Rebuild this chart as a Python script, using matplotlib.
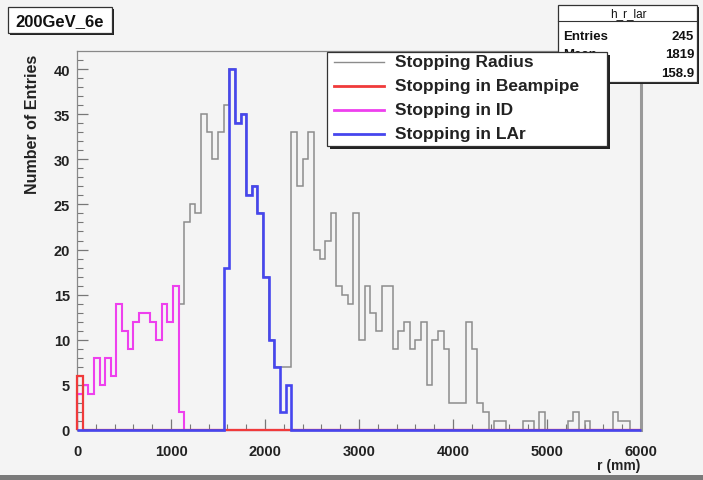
import numpy as np
import matplotlib
matplotlib.use("Agg")
import matplotlib.pyplot as plt
from matplotlib.patches import Rectangle
from matplotlib.lines import Line2D

# ---------------- data ----------------
n_bins = 100
r_min, r_max = 0, 6000

stopping_radius = [6, 5, 4, 8, 5, 8, 6, 14, 11, 9,
                   12, 13, 13, 12, 10, 14, 12, 16, 14, 23,
                   25, 24, 35, 33, 30, 33, 36, 40, 34, 35,
                   26, 27, 24, 17, 10, 7, 7, 7, 33, 27,
                   30, 33, 20, 19, 21, 24, 16, 15, 14, 24,
                   10, 16, 13, 11, 16, 16, 9, 11, 12, 9,
                   10, 12, 5, 10, 11, 9, 3, 3, 3, 12,
                   9, 3, 2, 0, 1, 1, 0, 0, 0, 1,
                   1, 0, 2, 0, 0, 0, 0, 1, 2, 0,
                   1, 0, 0, 0, 0, 2, 1, 1, 0, 0]

stopping_beampipe = [6] + [0] * 99

stopping_id = [4, 5, 4, 8, 5, 8, 6, 14, 11, 9,
               12, 13, 13, 12, 10, 14, 12, 16, 2] + [0] * 81

stopping_lar = [0] * 26 + [18, 40, 34, 35, 26, 27, 24, 17, 10, 7, 2, 5] + [0] * 62

series_labels = ["Stopping Radius", "Stopping in Beampipe", "Stopping in ID", "Stopping in LAr"]
series_colors = ["#8c8c8c", "#f03a3a", "#ee40ee", "#4646ee"]

title_text = "200GeV_6e"
stats_name = "h_r_lar"
stats_rows = [("Entries", "245"), ("Mean", "1819"), ("RMS", "158.9")]

# ---------------- figure ----------------
W, H = 703, 481
bg = "#f4f4f4"
FONT = "Liberation Sans"
plt.rcParams["font.family"] = [FONT, "DejaVu Sans"]

fig = plt.figure(figsize=(W / 100, H / 100), dpi=100, facecolor=bg)


def fx(x):
    return x / W


def fy(y):
    return 1 - y / H


ax_left, ax_right, ax_top, ax_bot = 77, 641, 52, 431
ax = fig.add_axes([fx(ax_left), fy(ax_bot), (ax_right - ax_left) / W, (ax_bot - ax_top) / H])
ax.set_facecolor(bg)

edges = np.linspace(r_min, r_max, n_bins + 1)
data = {
    "radius": stopping_radius,
    "beampipe": stopping_beampipe,
    "id": stopping_id,
    "lar": stopping_lar,
}
# draw order: total, ID, beampipe, LAr
ax.stairs(data["radius"], edges, color=series_colors[0], lw=1.1, baseline=0, clip_on=False, zorder=2)
ax.stairs(data["id"], edges, color=series_colors[2], lw=1.5, baseline=0, clip_on=False, zorder=3)
ax.stairs(data["beampipe"], edges, color=series_colors[1], lw=1.6, baseline=0, clip_on=False, zorder=4)
ax.stairs(data["lar"], edges, color=series_colors[3], lw=1.9, baseline=0, clip_on=False, zorder=5)

ax.set_xlim(r_min, r_max)
ax.set_ylim(0, 42)

ax.set_xticks(np.arange(0, 6001, 1000))
ax.set_xticks(np.arange(0, 6001, 200), minor=True)
ax.set_yticks(np.arange(0, 41, 5))
ax.set_yticks(np.arange(0, 42, 1), minor=True)

ax.tick_params(axis="both", which="both", direction="in", colors="#777777",
               labelcolor="#222222", top=False, right=False)
ax.tick_params(axis="x", which="major", length=8, width=0.9, pad=10, labelsize=10.5)
ax.tick_params(axis="x", which="minor", length=4, width=0.8)
ax.tick_params(axis="y", which="major", length=8, width=0.9, pad=5, labelsize=10.5)
ax.tick_params(axis="y", which="minor", length=4, width=0.8)
for lab in ax.get_xticklabels() + ax.get_yticklabels():
    lab.set_fontweight("bold")

for side in ["left", "bottom", "top"]:
    ax.spines[side].set_color("#888888")
    ax.spines[side].set_linewidth(0.9)
ax.spines["right"].set_color("#999999")
ax.spines["right"].set_linewidth(2.2)

# axis titles
fig.text(fx(33), fy(55), "Number of Entries", rotation=90, ha="center", va="top",
         fontsize=11.5, fontweight="bold", color="#222222")
fig.text(fx(640), fy(466), "r (mm)", ha="right", va="center",
         fontsize=10, fontweight="bold", color="#222222")

# bottom dark band of the canvas
fig.add_artist(Rectangle((0, 0), 1, 5 / H, transform=fig.transFigure,
                         facecolor="#7a7a7a", edgecolor="none", zorder=0))


def box(x0, y0, x1, y1, z, shadow=3):
    fig.add_artist(Rectangle((fx(x0 + shadow), fy(y1 + shadow)), (x1 - x0) / W, (y1 - y0) / H,
                             transform=fig.transFigure, facecolor="#222222",
                             edgecolor="none", zorder=z))
    fig.add_artist(Rectangle((fx(x0), fy(y1)), (x1 - x0) / W, (y1 - y0) / H,
                             transform=fig.transFigure, facecolor="white",
                             edgecolor="#333333", lw=0.9, zorder=z + 0.1))


# title box
box(8, 8, 112, 34, 10, shadow=2)
fig.text(fx(60), fy(21.5), title_text, ha="center", va="center", fontsize=12,
         fontweight="bold", color="#111111", zorder=11)

# stats box
box(558, 6, 697, 83, 12, shadow=2)
fig.add_artist(Line2D([fx(558), fx(697)], [fy(22), fy(22)], transform=fig.transFigure,
                      color="#333333", lw=0.8, zorder=13))
fig.text(fx(628), fy(14), stats_name, ha="center", va="center", fontsize=8.5,
         color="#111111", zorder=13)
for i, (lab, val) in enumerate(stats_rows):
    yy = 37 + i * 18.5
    fig.text(fx(563), fy(yy), lab, ha="left", va="center", fontsize=9.5,
             fontweight="bold", color="#111111", zorder=13)
    fig.text(fx(694), fy(yy), val, ha="right", va="center", fontsize=9.5,
             fontweight="bold", color="#111111", zorder=13)

# legend box
box(327, 53, 607, 147, 20, shadow=3)
for i, (lab, col) in enumerate(zip(series_labels, series_colors)):
    yy = 63 + i * 24
    fig.add_artist(Line2D([fx(334), fx(384)], [fy(yy), fy(yy)], transform=fig.transFigure,
                          color=col, lw=1.0 if i == 0 else 2.0, zorder=21))
    fig.text(fx(395), fy(yy), lab, ha="left", va="center", fontsize=12.5,
             fontweight="bold", color="#222222", zorder=21)

fig.savefig("out.png", dpi=100, facecolor=bg)
